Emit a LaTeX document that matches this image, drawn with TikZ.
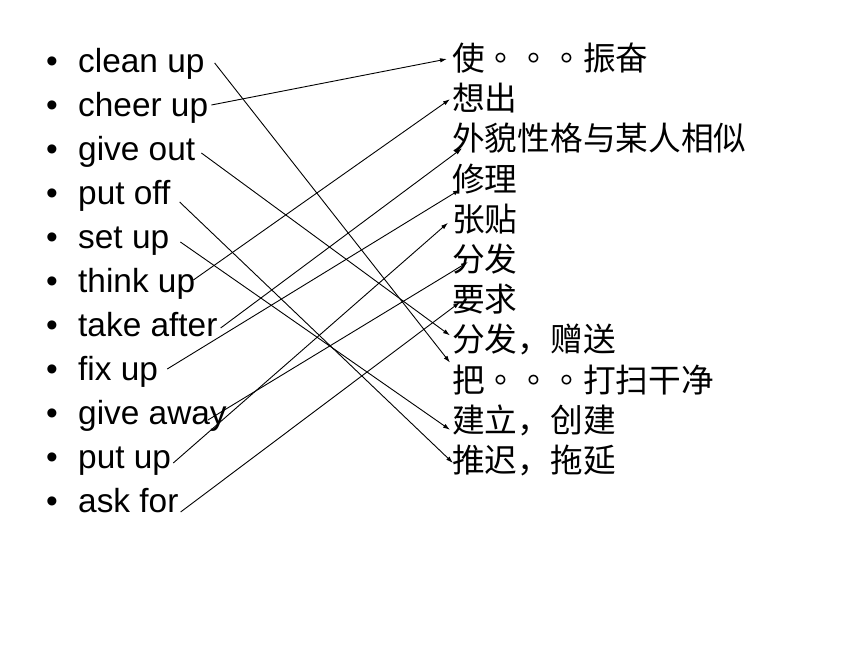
\documentclass[tikz,border=0pt]{standalone}
\usepackage{fontspec}
\setmainfont{Liberation Sans}
\newfontfamily\zhfont{Noto Sans CJK SC}
\newfontfamily\zhtcfont{Noto Sans CJK TC}
\newcommand\zhdot{{\zhtcfont 。}}
\usetikzlibrary{arrows.meta}

\tikzset{
  en/.style={anchor=base west, inner xsep=3pt, inner ysep=0pt, text height=24pt, text depth=8pt,
    font=\fontsize{33.4}{40}\selectfont},
  dot/.style={anchor=base, inner sep=0pt, font=\fontsize{33.4}{40}\selectfont},
  zh/.style={anchor=west, inner sep=0pt, text height=25pt, text depth=0pt,
    font=\zhfont\fontsize{32.7}{40}\selectfont},
  match/.style={line width=0.9pt, -{Latex[length=7pt,width=4.5pt]}}
}

\begin{document}
\begin{tikzpicture}[x=1pt, y=-1pt]
  \useasboundingbox (0,0) rectangle (860,645);

  % phrases on the left
  \foreach \t [count=\i] in {clean up, cheer up, give out, put off, set up, think up,
                             take after, fix up, give away, put up, ask for} {
    \node[dot] (b\i) at (52, 28+44*\i) {•};
    \node[en]  (l\i) at (75, 28+44*\i) {\t};
  }

  % meanings on the right
  \foreach \t [count=\i] in {使\zhdot\zhdot\zhdot{}振奋, 想出, 外貌性格与某人相似, 修理, 张贴, 分发,
                             要求, 分发，赠送, 把\zhdot\zhdot\zhdot{}打扫干净, 建立，创建, 推迟，拖延} {
    \node[zh] (r\i) at (452, 17.8+40.2*\i) {\t};
  }

  % matches
  \draw[match] ([shift={(7,-1)}]l1.east)   -- ([shift={(-2,-17)}]r9.west);
  \draw[match] ([shift={(0,-3)}]l2.east)   -- ([shift={(-5,1)}]r1.west);
  \draw[match] ([shift={(3,1)}]l3.east)    -- ([shift={(-2,-4)}]r8.west);
  \draw[match] ([shift={(6,6)}]l4.east)    -- ([shift={(1,3)}]r11.west);
  \draw[match] ([shift={(8,2)}]l5.east)    -- ([shift={(-2,10)}]r10.west);
  \draw[match] ([shift={(-5,-4)}]l6.east)  -- ([shift={(-2,1)}]r2.west);
  \draw[match] (l7.east)                   -- ([shift={(10,10)}]r3.west);
  \draw[match] ([shift={(6,-3)}]l8.east)   -- ([shift={(8,11)}]r4.west);
  \draw[match] ([shift={(-22,4)}]l9.east)  -- ([shift={(16,3)}]r6.west);
  \draw[match] ([shift={(-1,3)}]l10.east)  -- ([shift={(-4,4)}]r5.west);
  \draw[match] ([shift={(-1,8)}]l11.east)  -- ([shift={(8,3)}]r7.west);
\end{tikzpicture}
\end{document}
